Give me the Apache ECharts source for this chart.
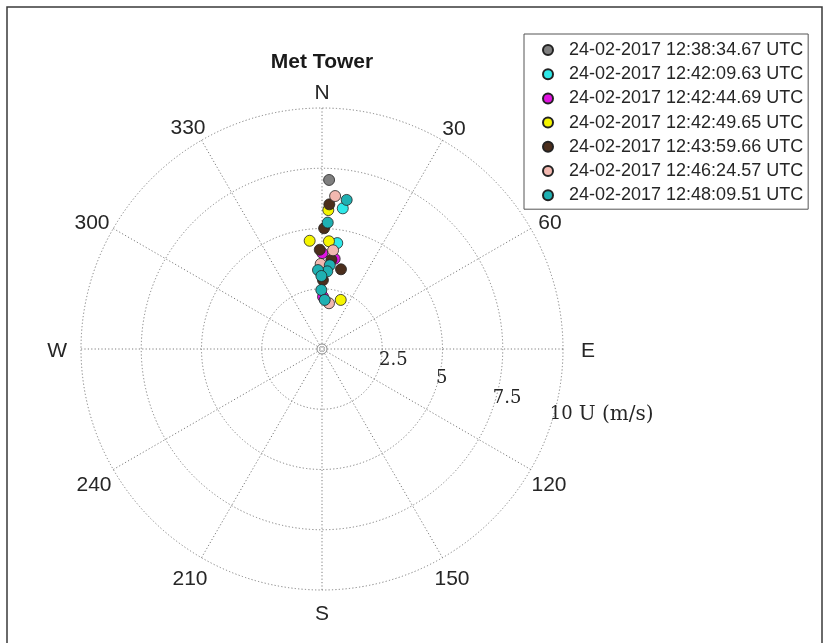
<!DOCTYPE html>
<html><head><meta charset="utf-8">
<script src="https://cdn.jsdelivr.net/npm/echarts@6/dist/echarts.min.js"></script>
<style>html,body{margin:0;padding:0;background:#fff}#c{width:829px;height:643px}</style>
</head><body><div id="c"></div>
<script>
// ---- data: [speed U (m/s), direction (deg from N, clockwise)] ----
const seriesNames = [
  '24-02-2017 12:38:34.67 UTC',
  '24-02-2017 12:42:09.63 UTC',
  '24-02-2017 12:42:44.69 UTC',
  '24-02-2017 12:42:49.65 UTC',
  '24-02-2017 12:43:59.66 UTC',
  '24-02-2017 12:46:24.57 UTC',
  '24-02-2017 12:48:09.51 UTC'
];
const gray1238 = [[7.02, 2.4]];
const cyan1242a = [[5.90, 8.4], [4.44, 8.2]];
const magenta1242b = [[3.98, 0.2], [3.78, 8.0], [2.17, 1.1]];
const yellow1242c = [[5.77, 2.6], [4.52, 353.5], [4.48, 3.7], [2.18, 20.9]];
const brown1243 = [[6.01, 2.9], [5.01, 1.0], [4.12, 358.7], [3.73, 6.0], [3.40, 13.4], [2.86, 0.8]];
const pink1246 = [[6.37, 4.9], [4.12, 6.4], [3.53, 359.1], [1.92, 8.7]];
const teal1248 = [[6.27, 9.4], [5.25, 2.6], [3.49, 5.3], [3.23, 3.9], [3.28, 357.1], [3.03, 359.5], [2.45, 359.3], [2.04, 3.2]];
const seriesData = [gray1238, cyan1242a, magenta1242b, yellow1242c, brown1243, pink1246, teal1248];
const seriesColors = ['#7f7f7f', '#2ee8e8', '#e014e0', '#f5f500', '#4b2e1c', '#f2b8b0', '#1fb0b2'];
const angleTickLabels = ['N', '30', '60', 'E', '120', '150', 'S', '210', '240', 'W', '300', '330'];
const radiusTicks = [2.5, 5, 7.5, 10];
const radiusUnit = 'U (m/s)';

// label nudges (style only): [top, right, bottom, left] padding per angle label
const anglePads = [
  [0, 0, 20.5, 0], [0, 0, 14.6, 7.8], [0, 0, 3, 21.4], [5, 0, 0, 34],
  [13, 0, 0, 14.6], [24.6, 0, 0, 0], [29.5, 0, 0, 0], [24.6, 2, 0, 0],
  [13, 15.6, 0, 0], [5, 30, 0, 0], [0, 17.6, 3, 0], [0, 4, 15.6, 0]
];
const radiusPads = [[0, 0, 10, 0], [0, 0, 6, 0], [0, 0, 0, 0], [0, 0, 0, 0]];

const chart = echarts.init(document.getElementById('c'), null, {renderer: 'canvas'});
const dotted = {color: '#7d7d7d', width: 1, type: [1.2, 2.2]};
const CX = 322, CY = 349, R = 241;
const labelFont = {fontFamily: 'Liberation Sans', fontSize: 21, color: '#262626'};
const serifFont = {fontFamily: 'DejaVu Serif', fontSize: 18, color: '#262626'};

const angleRich = {};
anglePads.forEach((p, i) => { angleRich['a' + i] = Object.assign({padding: p}, labelFont); });
const radiusRich = {};
radiusPads.forEach((p, i) => { radiusRich['r' + i] = Object.assign({padding: p}, serifFont); });
radiusRich.u = Object.assign({}, serifFont, {fontSize: 20, padding: [0, 0, 0, 6]});

const option = {
  backgroundColor: '#fff',
  animation: false,
  title: {
    text: 'Met Tower', left: CX, top: 52, textAlign: 'center', padding: 0,
    textStyle: {fontFamily: 'Liberation Sans', fontSize: 21, fontWeight: 'bold', color: '#1a1a1a'}
  },
  legend: {
    orient: 'vertical', left: 524, top: 34,
    padding: [7, 5, 5, 18], itemGap: 6.2, itemWidth: 32, itemHeight: 10,
    icon: 'circle', borderColor: '#555', borderWidth: 1, backgroundColor: '#fff',
    textStyle: {fontFamily: 'Liberation Sans', fontSize: 18, lineHeight: 18, color: '#262626'},
    data: seriesNames
  },
  polar: [
    {center: [CX, CY], radius: R},
    {center: [CX, CY], radius: 237}
  ],
  angleAxis: [
    {
      polarIndex: 0, type: 'value', min: 0, max: 360, interval: 30, startAngle: 90, clockwise: true,
      axisLine: {show: false}, axisTick: {show: false},
      splitLine: {show: true, lineStyle: dotted},
      axisLabel: {
        margin: -16, color: '#262626', fontFamily: 'Liberation Sans', fontSize: 21,
        formatter: v => {
          const i = Math.round(v / 30);
          if (i >= angleTickLabels.length) return '';
          return '{a' + i + '|' + angleTickLabels[i] + '}';
        },
        rich: angleRich
      }
    },
    {polarIndex: 1, type: 'value', min: 0, max: 360, startAngle: -16, clockwise: true, show: false}
  ],
  radiusAxis: [
    {
      polarIndex: 0, type: 'value', min: 0, max: 10, interval: 2.5,
      axisLine: {show: false}, axisTick: {show: false}, axisLabel: {show: false},
      splitLine: {show: true, lineStyle: dotted}
    },
    {
      polarIndex: 1, type: 'value', min: 0, max: 10, interval: 2.5,
      axisLine: {show: false}, axisTick: {show: false}, splitLine: {show: false},
      axisLabel: {
        show: true, margin: 0, align: 'left', verticalAlign: 'middle',
        fontFamily: 'DejaVu Serif', fontSize: 18, color: '#262626',
        showMinLabel: false, hideOverlap: false,
        formatter: v => {
          const i = radiusTicks.indexOf(v);
          if (i < 0) return '';
          const s = '{r' + i + '|' + v + '}';
          return i === radiusTicks.length - 1 ? s + '{u|' + radiusUnit + '}' : s;
        },
        rich: radiusRich
      }
    }
  ],
  graphic: [
    {type: 'rect', shape: {x: 7, y: 7, width: 815, height: 660}, style: {fill: null, stroke: '#3a3a3a', lineWidth: 1.5}, z: -1},
    {type: 'circle', shape: {cx: CX, cy: CY, r: 5}, style: {fill: null, stroke: '#8c8c8c', lineWidth: 1}, z: 1}
  ],
  series: seriesData.map((d, i) => ({
    type: 'scatter', name: seriesNames[i], coordinateSystem: 'polar', polarIndex: 0,
    symbol: 'circle', symbolSize: 11,
    itemStyle: {color: seriesColors[i], borderColor: '#222', borderWidth: 0.8, opacity: 1},
    z: 2 + i,
    data: d
  }))
};
chart.setOption(option);
</script>
</body></html>
